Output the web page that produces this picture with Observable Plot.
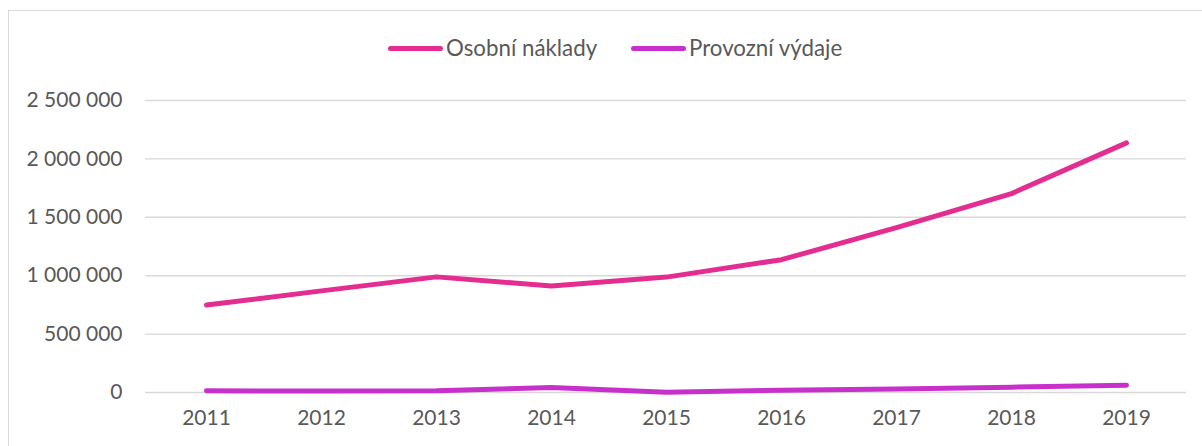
<!DOCTYPE html>
<html>
<head>
<meta charset="utf-8">
<script src="https://cdn.jsdelivr.net/npm/d3@7"></script>
<script src="https://cdn.jsdelivr.net/npm/@observablehq/plot@0.6"></script>
<style>
  html, body { margin: 0; padding: 0; background: #fff; overflow: hidden; }
  #wrap { position: relative; width: 1202px; height: 446px; font-family: Lato, "Open Sans", sans-serif; color: #595959; }
  #border { position: absolute; left: 8px; top: 10px; width: 1400px; height: 1000px; border: 1px solid #d9d9d9; pointer-events: none; box-sizing: border-box; }
  #legend { position: absolute; left: 0; top: 0; height: 80px; width: 1202px; }
  .item { position: absolute; top: 35px; display: flex; align-items: center; font-size: 22.3px; line-height: 26px; }
  .sw { width: 55px; height: 5px; border-radius: 3px; margin-right: 3px; }
  #chart { position: absolute; left: 0; top: 80px; }
</style>
</head>
<body>
<div id="wrap">
  <div id="border"></div>
  <div id="legend"></div>
  <div id="chart"></div>
</div>
<script>
const years = ["2011", "2012", "2013", "2014", "2015", "2016", "2017", "2018", "2019"];
const osobniNaklady = [749000, 870000, 990000, 912000, 988000, 1137000, 1411000, 1703000, 2137000];
const provozniVydaje = [14000, 13000, 15000, 43000, 3000, 20000, 31000, 46000, 62000];
const seriesNames = ["Osobní náklady", "Provozní výdaje"];
const seriesColors = ["#E32D91", "#C830CC"];
const yTicks = [0, 500000, 1000000, 1500000, 2000000, 2500000];

const rows = [];
years.forEach((y, i) => {
  rows.push({year: y, value: osobniNaklady[i], series: seriesNames[0]});
  rows.push({year: y, value: provozniVydaje[i], series: seriesNames[1]});
});

const locale = d3.formatLocale({decimal: ",", thousands: " ", grouping: [3], currency: ["", " Kč"]});
const fmt = locale.format(",d");

// legend
const legend = document.getElementById("legend");
const legendLeft = [388, 631];
seriesNames.forEach((name, i) => {
  const it = document.createElement("div");
  it.className = "item";
  it.style.left = legendLeft[i] + "px";
  it.innerHTML = `<span class="sw" style="background:${seriesColors[i]}"></span><span>${name}</span>`;
  legend.appendChild(it);
});

const chart = Plot.plot({
  width: 1202,
  height: 366,
  marginLeft: 145,
  marginRight: 16,
  marginTop: 20,
  marginBottom: 54,
  style: {fontFamily: "Lato, 'Open Sans', sans-serif", fontSize: "21px", color: "#595959", background: "transparent", overflow: "visible"},
  x: {type: "point", domain: years, padding: 0.5, label: null},
  y: {domain: [0, 2500000], label: null},
  color: {domain: seriesNames, range: seriesColors},
  marks: [
    Plot.gridY(yTicks, {stroke: "#d9d9d9", strokeOpacity: 1, strokeWidth: 1.4}),
    Plot.axisY(yTicks, {tickSize: 0, tickPadding: 23, tickFormat: fmt, fill: "#595959", label: null}),
    Plot.axisX({tickSize: 0, tickPadding: 18, fill: "#595959", label: null}),
    Plot.line(rows, {x: "year", y: "value", z: "series", stroke: "series", strokeWidth: 5, strokeLinecap: "round", strokeLinejoin: "round"})
  ]
});
document.getElementById("chart").appendChild(chart);
</script>
</body>
</html>
